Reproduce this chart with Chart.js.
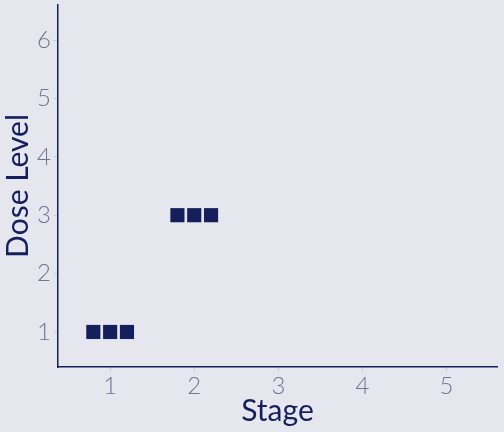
<!DOCTYPE html>
<html>
<head>
<meta charset="utf-8">
<script src="https://cdn.jsdelivr.net/npm/chart.js@4/dist/chart.umd.min.js"></script>
<style>
html,body{margin:0;padding:0;background:#e6e7ee;}
#wrap{width:504px;height:432px;position:relative;}
</style>
</head>
<body>
<div id="wrap"><canvas id="c" width="504" height="432"></canvas></div>
<script>
// Data
const stageValues = [0.8, 1.0, 1.2, 1.8, 2.0, 2.2];
const doseValues  = [1, 1, 1, 3, 3, 3];
const xTickLabels = [1, 2, 3, 4, 5];
const yTickLabels = [1, 2, 3, 4, 5, 6];

const navy = '#141f5c';
const tickGrey = '#6f7592';

const bgPlugin = {
  id: 'bg',
  beforeDraw(chart) {
    const ctx = chart.ctx;
    ctx.save();
    ctx.fillStyle = '#e6e7ee';
    ctx.fillRect(0, 0, chart.width, chart.height);
    ctx.restore();
  }
};

new Chart(document.getElementById('c'), {
  type: 'scatter',
  data: {
    datasets: [{
      data: stageValues.map((x, i) => ({x: x, y: doseValues[i]})),
      pointStyle: 'rect',
      pointRadius: 10,
      pointHoverRadius: 10,
      borderWidth: 0,
      backgroundColor: navy,
      borderColor: navy
    }]
  },
  options: {
    responsive: false,
    animation: false,
    devicePixelRatio: 1,
    layout: { autoPadding: false, padding: { left: 0, right: 7, top: 5, bottom: 0 } },
    plugins: { legend: { display: false }, tooltip: { enabled: false } },
    scales: {
      x: {
        type: 'linear',
        min: 0.38, max: 5.6,
        afterBuildTicks(scale) { scale.ticks = xTickLabels.map(v => ({value: v})); },
        afterFit(scale) { scale.height = 65; scale.paddingLeft = 0; scale.paddingRight = 0; },
        border: { display: true, color: navy, width: 1.5 },
        grid: { display: true, drawOnChartArea: false, drawTicks: true, tickLength: 4, color: '#c4c6d2' },
        ticks: { color: tickGrey, font: { family: 'Lato', size: 24, weight: '300' }, padding: 1 },
        title: { display: true, text: 'Stage', color: navy, font: { family: 'Lato', size: 30, weight: '400' }, padding: { top: 0, bottom: 3 } }
      },
      y: {
        type: 'linear',
        min: 0.4, max: 6.6,
        afterBuildTicks(scale) { scale.ticks = yTickLabels.map(v => ({value: v})); },
        afterFit(scale) { scale.width = 58; scale.paddingTop = 0; scale.paddingBottom = 0; },
        border: { display: true, color: navy, width: 1.5 },
        grid: { display: true, drawOnChartArea: false, drawTicks: true, tickLength: 4, color: '#c4c6d2' },
        ticks: { color: tickGrey, font: { family: 'Lato', size: 24, weight: '300' }, padding: 3 },
        title: { display: true, text: 'Dose Level', color: navy, font: { family: 'Lato', size: 30, weight: '400' }, padding: { top: 0, bottom: 0 } }
      }
    }
  },
  plugins: [bgPlugin]
});
</script>
</body>
</html>
